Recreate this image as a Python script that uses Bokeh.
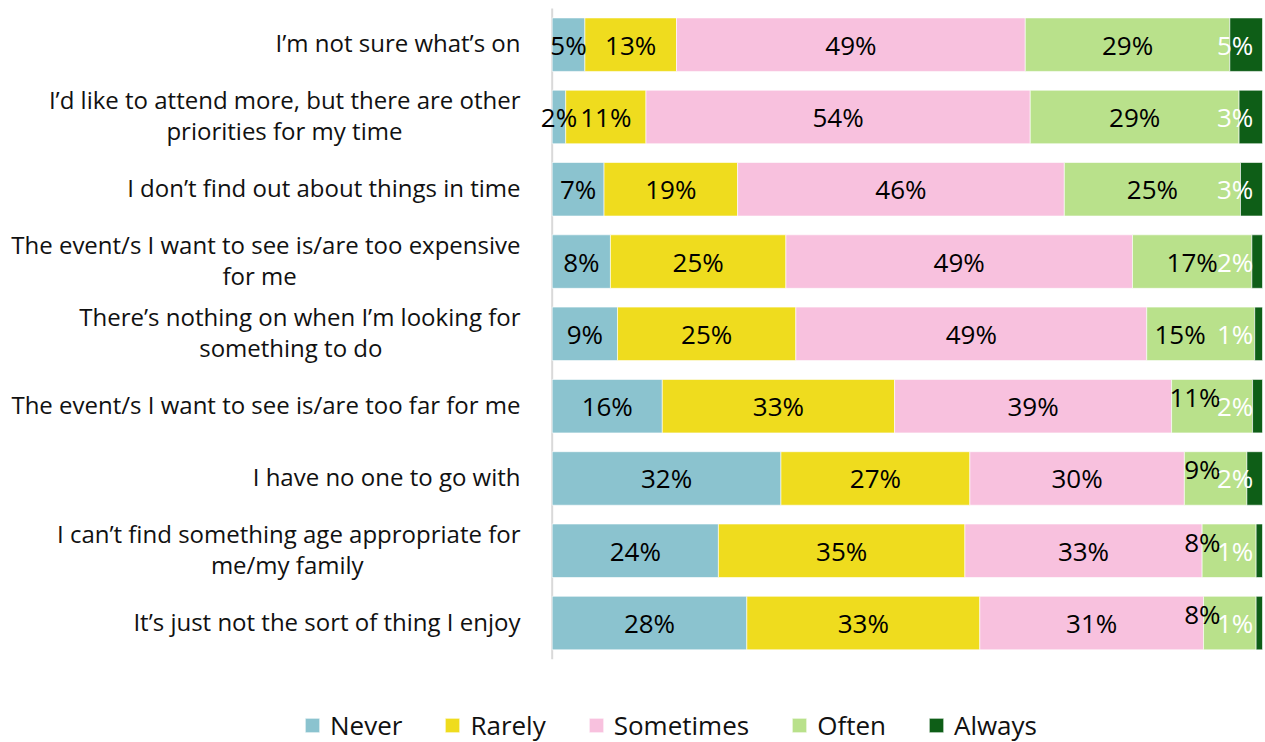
from bokeh.plotting import figure
from bokeh.models import ColumnDataSource, LabelSet, Range1d
from bokeh.core.properties import value
from bokeh.embed import file_html
from bokeh.resources import INLINE

# ---------------- data ----------------
categories = [
    ["I\u2019m not sure what\u2019s on"],
    ["I\u2019d like to attend more, but there are other", "priorities for my time"],
    ["I don\u2019t find out about things in time"],
    ["The event/s I want to see is/are too expensive", "for me"],
    ["There\u2019s nothing on when I\u2019m looking for", "something to do"],
    ["The event/s I want to see is/are too far for me"],
    ["I have no one to go with"],
    ["I can\u2019t find something age appropriate for", "me/my family"],
    ["It\u2019s just not the sort of thing I enjoy"],
]
series = ["Never", "Rarely", "Sometimes", "Often", "Always"]

never = [4.6, 1.9, 7.3, 8.2, 9.2, 15.5, 32.2, 23.4, 27.4]
rarely = [12.9, 11.3, 18.8, 24.7, 25.1, 32.7, 26.6, 34.7, 32.8]
sometimes = [49.1, 54.1, 46.0, 48.8, 49.4, 39.0, 30.2, 33.4, 31.5]
often = [28.8, 29.4, 24.8, 16.8, 15.2, 11.4, 8.8, 7.6, 7.4]
always = [4.6, 3.3, 3.1, 1.5, 1.1, 1.4, 2.2, 0.9, 0.9]

never_lbl = [5, 2, 7, 8, 9, 16, 32, 24, 28]
rarely_lbl = [13, 11, 19, 25, 25, 33, 27, 35, 33]
sometimes_lbl = [49, 54, 46, 49, 49, 39, 30, 33, 31]
often_lbl = [29, 29, 25, 17, 15, 11, 9, 8, 8]
always_lbl = [5, 3, 3, 2, 1, 2, 2, 1, 1]

colors = ["#8bc3cf", "#efdc1e", "#f8c1de", "#b9e18b", "#0e5e17"]

# ---------------- layout constants ----------------
W, H = 1265, 742
FONT = value("Open Sans")
X_START, X_END = -77.67, 100.42
Y_START, Y_END = -1.652, 8.611
CAT_RIGHT = -4.46
CAT_DY = 0.028
LINE2_CENTER = {1: -37.7, 3: -41.2, 4: -36.8, 7: -37.3}
LINE_OFF = 0.215
OFTEN_SHIFT_MAX = 16.0     # Often segments narrower than this get a moved label
OFTEN_RAISE_MAX = 13.0     # ...and narrower than this are also raised
OFTEN_SHIFT_RIGHT = 92.0
OFTEN_RAISE_RIGHT = 94.1
OFTEN_RAISE = 0.125
ALWAYS_RIGHT = 98.7

n = len(categories)
ys = [n - 1 - i for i in range(n)]

source = ColumnDataSource(dict(y=ys, Never=never, Rarely=rarely, Sometimes=sometimes,
                               Often=often, Always=always))

p = figure(width=W, height=H, x_range=Range1d(X_START, X_END), y_range=Range1d(Y_START, Y_END),
           output_backend="svg", toolbar_location=None, min_border=0)
p.xaxis.visible = False
p.yaxis.visible = False
p.grid.visible = False
p.outline_line_color = None

# axis baseline
p.segment(x0=[0], y0=[min(ys) - 0.5], x1=[0], y1=[max(ys) + 0.5],
          line_color="#d9d9d9", line_width=2)

p.hbar_stack(series, y="y", height=0.74, fill_color=colors, line_color="white",
             line_width=0.6, source=source, legend_label=series)

# ---------------- data labels ----------------
vals = [never, rarely, sometimes, often, always]
lbls = [never_lbl, rarely_lbl, sometimes_lbl, often_lbl, always_lbl]
cx, cy, ct = [], [], []
dx, dy, dt = [], [], []
wx, wy, wt = [], [], []
for i in range(n):
    start = 0.0
    for k in range(5):
        v = vals[k][i]
        txt = f"{lbls[k][i]}%"
        if k == 4:
            wx.append(ALWAYS_RIGHT); wy.append(ys[i]); wt.append(txt)
        elif k == 3 and v < OFTEN_RAISE_MAX:
            dx.append(OFTEN_RAISE_RIGHT); dy.append(ys[i] + OFTEN_RAISE); dt.append(txt)
        elif k == 3 and v < OFTEN_SHIFT_MAX:
            dx.append(OFTEN_SHIFT_RIGHT); dy.append(ys[i]); dt.append(txt)
        else:
            cx.append(start + v / 2); cy.append(ys[i]); ct.append(txt)
        start += v

common = dict(text_font=FONT, text_font_size="26px", text_baseline="middle")
p.add_layout(LabelSet(x="x", y="y", text="t", source=ColumnDataSource(dict(x=cx, y=cy, t=ct)),
                      text_align="center", text_color="black", **common))
p.add_layout(LabelSet(x="x", y="y", text="t", source=ColumnDataSource(dict(x=dx, y=dy, t=dt)),
                      text_align="right", text_color="black", **common))
p.add_layout(LabelSet(x="x", y="y", text="t", source=ColumnDataSource(dict(x=wx, y=wy, t=wt)),
                      text_align="right", text_color="white", **common))

# ---------------- category labels ----------------
rx, ry, rt = [], [], []
mx, my, mt = [], [], []
for i, lines in enumerate(categories):
    yc = ys[i] + CAT_DY
    if len(lines) == 1:
        rx.append(CAT_RIGHT); ry.append(yc); rt.append(lines[0])
    else:
        rx.append(CAT_RIGHT); ry.append(yc + LINE_OFF); rt.append(lines[0])
        mx.append(LINE2_CENTER[i]); my.append(yc - LINE_OFF); mt.append(lines[1])

catc = dict(text_font=FONT, text_font_size="24px", text_baseline="middle", text_color="#111111")
p.add_layout(LabelSet(x="x", y="y", text="t", source=ColumnDataSource(dict(x=rx, y=ry, t=rt)),
                      text_align="right", **catc))
p.add_layout(LabelSet(x="x", y="y", text="t", source=ColumnDataSource(dict(x=mx, y=my, t=mt)),
                      text_align="center", **catc))

# ---------------- legend ----------------
leg = p.legend[0]
leg.location = (303, -1)
leg.orientation = "horizontal"
leg.glyph_width = 18
leg.glyph_height = 18
leg.label_standoff = 9
leg.spacing = 41
leg.padding = 0
leg.margin = 0
leg.border_line_color = None
leg.background_fill_alpha = 0
leg.label_text_font = "Open Sans"
leg.label_text_font_size = "26px"
leg.label_text_color = "#111111"

open("out.html", "w").write(file_html(p, INLINE))
